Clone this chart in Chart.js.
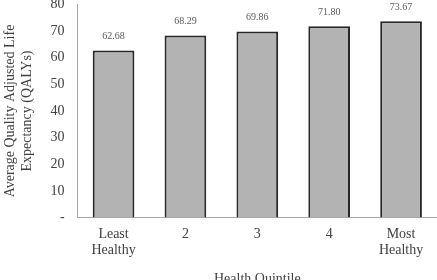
<!DOCTYPE html>
<html>
<head>
<meta charset="utf-8">
<script src="https://cdn.jsdelivr.net/npm/chart.js@4"></script>
<style>
  html, body { margin: 0; padding: 0; background: #fff; overflow: hidden; }
  #wrap { width: 437px; height: 297px; margin-top: -17px; }
</style>
</head>
<body>
<div id="wrap"><canvas id="chart"></canvas></div>
<script>
// Average QALYs by health quintile
const categories = [['Least', 'Healthy'], '2', '3', '4', ['Most', 'Healthy']];
const qalys = [62.68, 68.29, 69.86, 71.80, 73.67];
const yTicks = [0, 10, 20, 30, 40, 50, 60, 70, 80];

const FONT = "'Liberation Serif', 'DejaVu Serif', serif";
const TEXT = '#404040';

// value labels above each bar
const barLabels = {
  id: 'barLabels',
  afterDatasetsDraw(chart) {
    const { ctx } = chart;
    const meta = chart.getDatasetMeta(0);
    ctx.save();
    ctx.font = '10px ' + FONT;
    ctx.fillStyle = '#595959';
    ctx.textAlign = 'center';
    ctx.textBaseline = 'bottom';
    meta.data.forEach((bar, i) => {
      ctx.fillText(qalys[i].toFixed(2), bar.x, bar.y - 9);
    });
    ctx.restore();
  }
};

new Chart(document.getElementById('chart'), {
  type: 'bar',
  data: {
    labels: categories,
    datasets: [{
      data: qalys,
      backgroundColor: '#b3b3b3',
      borderColor: '#262626',
      borderWidth: 2,
      borderSkipped: 'bottom',
      barPercentage: 0.58,
      categoryPercentage: 1
    }]
  },
  options: {
    responsive: true, maintainAspectRatio: false, animation: false,
    layout: { padding: { top: -25, right: 0, bottom: -8, left: 2 } },
    plugins: { legend: { display: false }, tooltip: { enabled: false } },
    scales: {
      x: {
        grid: { display: false, drawTicks: false },
        border: { display: true, color: '#a6a6a6', width: 1 },
        ticks: { color: TEXT, font: { family: FONT, size: 14 }, padding: 8, maxRotation: 0 },
        title: { display: true, text: 'Health Quintile', color: TEXT, font: { family: FONT, size: 14 }, padding: { top: 4, bottom: 0 } }
      },
      y: {
        min: 0, max: 80,
        afterBuildTicks: axis => { axis.ticks = yTicks.map(v => ({ value: v })); },
        grid: { display: false, drawTicks: false },
        border: { display: true, color: '#a6a6a6', width: 1 },
        ticks: { color: TEXT, font: { family: FONT, size: 14 }, padding: 13, callback: v => v === 0 ? '-' : v },
        title: { display: true, text: ['Average Quality Adjusted Life', 'Expectancy (QALYs)'], color: TEXT, font: { family: FONT, size: 14, lineHeight: 1.2 }, padding: { top: 0, bottom: 2 } }
      }
    }
  },
  plugins: [barLabels]
});
</script>
</body>
</html>
